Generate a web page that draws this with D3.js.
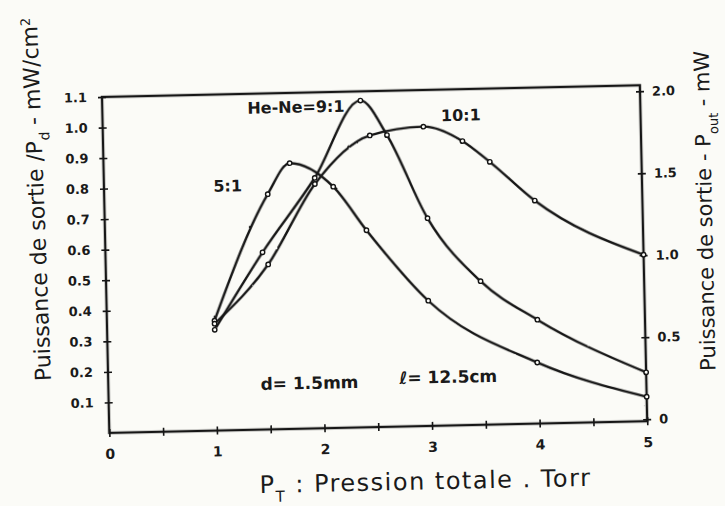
<!DOCTYPE html>
<html>
<head>
<meta charset="utf-8">
<script src="https://cdnjs.cloudflare.com/ajax/libs/d3/7.8.5/d3.min.js"></script>
<style>
  body { margin: 0; background: #fbfbf7; }
  text { font-family: "DejaVu Sans", sans-serif; fill: #1a1a1a; }
</style>
</head>
<body>
<div id="chart"></div>
<script>
// pressure (Torr) and output power density (mW/cm2)
var p51 = [1.0, 1.52, 1.73, 2.13, 2.43, 2.99, 3.99, 5.0]
var v51 = [0.36, 0.77, 0.87, 0.79, 0.645, 0.41, 0.20, 0.08]

var p91 = [1.0, 1.46, 1.96, 2.40, 2.64, 3.0, 3.48, 4.0, 5.0]
var v91 = [0.33, 0.58, 0.82, 1.07, 0.955, 0.68, 0.47, 0.34, 0.16]

var p101 = [1.0, 1.51, 1.96, 2.48, 2.98, 3.34, 3.59, 4.0, 5.0]
var v101 = [0.35, 0.54, 0.80, 0.955, 0.98, 0.93, 0.86, 0.73, 0.545]

var xTicks = [0, 0.5, 1, 1.5, 2, 2.5, 3, 3.5, 4, 4.5, 5]
var leftTicks = [0.1, 0.2, 0.3, 0.4, 0.5, 0.6, 0.7, 0.8, 0.9, 1.0, 1.1]
var rightTicks = [0, 0.5, 1.0, 1.5, 2.0]

var curveLabels = ["5:1", "He-Ne=9:1", "10:1"]
var labelP = [1.15, 1.80, 3.33]
var labelV = [0.80, 1.053, 1.015]

var width = 725,
	height = 506,
	w = 538,
	h = 336;

var svg = d3.select("#chart").append("svg")
	.attr("width", width)
	.attr("height", height);

// slight wobble like a pen drawing
var defs = svg.append("defs");
var filt = defs.append("filter").attr("id", "rough")
	.attr("x", "-5%").attr("y", "-5%").attr("width", "110%").attr("height", "110%");
filt.append("feTurbulence").attr("type", "fractalNoise").attr("baseFrequency", 0.08)
	.attr("numOctaves", 2).attr("seed", 3).attr("result", "n");
filt.append("feDisplacementMap").attr("in", "SourceGraphic").attr("in2", "n")
	.attr("scale", 1.6).attr("xChannelSelector", "R").attr("yChannelSelector", "G");

// the scan is a little tilted
var g = svg.append("g").attr("transform", "translate(102,97) rotate(-1.25)");

var x = d3.scaleLinear().domain([0, 5]).range([0, w]);
var yL = d3.scaleLinear().domain([0, 1.1]).range([h, 0]);
var yR = d3.scaleLinear().domain([0, 2]).range([h - 2, 6]);

var ink = "#151515";

// frame
g.append("rect")
	.attr("x", 0).attr("y", 0).attr("width", w).attr("height", h)
	.attr("fill", "none").attr("stroke", ink).attr("stroke-width", 2.4)
	.attr("filter", "url(#rough)");

// left axis
var axL = g.append("g").call(d3.axisLeft(yL).tickValues(leftTicks)
	.tickSize(4).tickPadding(11).tickFormat(d3.format(".1f")));
axL.select(".domain").remove();
axL.selectAll(".tick line").attr("x1", 4).attr("stroke", ink).attr("stroke-width", 1.6);
axL.selectAll(".tick text").style("font-size", "13px").style("font-weight", "bold")
	.style("font-family", "DejaVu Sans");

// right axis
var axR = g.append("g").attr("transform", "translate(" + w + ",0)")
	.call(d3.axisRight(yR).tickValues(rightTicks).tickSize(4).tickPadding(8)
		.tickFormat(function (d) { return d === 0 ? "0" : d3.format(".1f")(d); }));
axR.select(".domain").remove();
axR.selectAll(".tick line").attr("x1", -4).attr("stroke", ink).attr("stroke-width", 1.6);
axR.selectAll(".tick text").style("font-size", "13px").style("font-weight", "bold")
	.style("font-family", "DejaVu Sans");

// bottom axis
var axB = g.append("g").attr("transform", "translate(0," + h + ")")
	.call(d3.axisBottom(x).tickValues(xTicks).tickSize(4).tickPadding(12)
		.tickFormat(function (d) { return d % 1 === 0 ? d : ""; }));
axB.select(".domain").remove();
axB.selectAll(".tick line").attr("y1", -4).attr("stroke", ink).attr("stroke-width", 1.6);
axB.selectAll(".tick text").style("font-size", "14px").style("font-weight", "bold")
	.style("font-family", "DejaVu Sans");

// curves
var line = d3.line()
	.x(function (d) { return x(d[0]); })
	.y(function (d) { return yL(d[1]); })
	.curve(d3.curveMonotoneX);

var series = [d3.zip(p51, v51), d3.zip(p91, v91), d3.zip(p101, v101)];

g.selectAll(".curve")
	.data(series)
	.enter().append("path")
	.attr("class", "curve")
	.attr("d", line)
	.attr("fill", "none")
	.attr("stroke", ink)
	.attr("stroke-width", 2.4)
	.attr("filter", "url(#rough)");

series.forEach(function (s) {
	g.selectAll(null)
		.data(s)
		.enter().append("circle")
		.attr("cx", function (d) { return x(d[0]); })
		.attr("cy", function (d) { return yL(d[1]); })
		.attr("r", 2.2)
		.attr("fill", "#fbfbf7")
		.attr("stroke", ink)
		.attr("stroke-width", 1.4);
});

// curve labels
g.selectAll(".clabel")
	.data(curveLabels)
	.enter().append("text")
	.attr("class", "clabel")
	.attr("x", function (d, i) { return x(labelP[i]); })
	.attr("y", function (d, i) { return yL(labelV[i]); })
	.attr("dy", "0.35em")
	.attr("text-anchor", "middle")
	.style("font-size", "16px")
	.style("font-weight", "bold")
	.text(function (d) { return d; });

// tube dimensions
g.append("text")
	.attr("x", x(1.87)).attr("y", yL(0.149)).attr("dy", "0.35em")
	.attr("text-anchor", "middle")
	.style("font-size", "17px").style("font-weight", "bold")
	.text("d= 1.5mm");
g.append("text")
	.attr("x", x(3.16)).attr("y", yL(0.159)).attr("dy", "0.35em")
	.attr("text-anchor", "middle")
	.style("font-size", "17px").style("font-weight", "bold")
	.text("ℓ= 12.5cm");

// axis titles
var xt = g.append("text")
	.attr("x", 315).attr("y", 391).attr("dy", "0.35em")
	.attr("text-anchor", "middle")
	.style("font-size", "24px")
	.style("letter-spacing", "1.5px");
xt.append("tspan").text("P");
xt.append("tspan").attr("baseline-shift", "sub").style("font-size", "15px").text("T");
xt.append("tspan").text(" : Pression totale . Torr");

var lt = g.append("text")
	.attr("transform", "translate(-68,101) rotate(-91)")
	.attr("text-anchor", "middle")
	.attr("dy", "0.35em")
	.style("font-size", "22px");
lt.append("tspan").text("Puissance de sortie /P");
lt.append("tspan").attr("baseline-shift", "sub").style("font-size", "14px").text("d");
lt.append("tspan").text(" - mW/cm");
lt.append("tspan").attr("baseline-shift", "super").style("font-size", "13px").text("2");

var rt = g.append("text")
	.attr("transform", "translate(600,127) rotate(-90)")
	.attr("text-anchor", "middle")
	.attr("dy", "0.35em")
	.style("font-size", "21px");
rt.append("tspan").text("Puissance de sortie - P");
rt.append("tspan").attr("baseline-shift", "sub").style("font-size", "13px").text("out");
rt.append("tspan").text(" - mW");
</script>
</body>
</html>
